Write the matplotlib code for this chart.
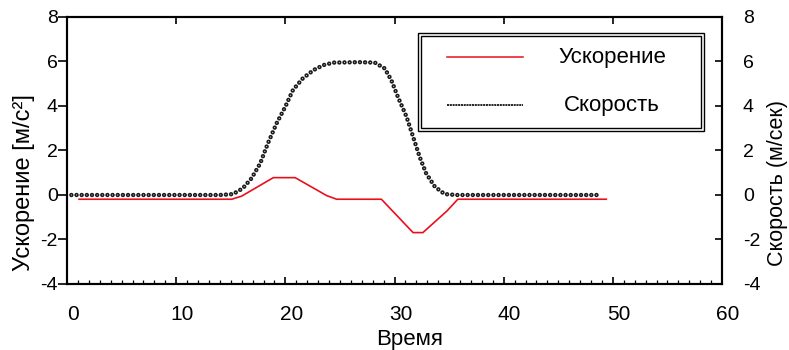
#!/usr/bin/env python3

"""
Acceleration / velocity vs time, two y axes
"""

import matplotlib
matplotlib.use("Agg")
import matplotlib.pyplot as plt
import matplotlib.transforms as mtrans
from matplotlib.patches import Rectangle

plt.rcParams["font.family"] = ["Liberation Sans", "DejaVu Sans"]
plt.rcParams["lines.scale_dashes"] = False
plt.rcParams["axes.unicode_minus"] = False

# acceleration, m/s^2
t_acc = [1.1, 15.1, 16.0, 18.9, 20.9, 23.8, 24.7, 28.8, 31.7, 32.6, 34.8, 35.8, 49.4]
acc = [-0.19, -0.19, -0.05, 0.78, 0.78, -0.03, -0.19, -0.19, -1.69, -1.69, -0.72, -0.19, -0.19]

# velocity, m/s
t_vel = [0.4, 14.0, 15.2, 16.1, 16.9, 17.7, 18.4, 19.2, 20.0, 20.7, 21.6, 22.6, 23.5,
         24.4, 26.8, 28.2, 29.1, 29.7, 30.3, 31.1, 31.7, 32.3, 32.9, 33.7, 34.6, 35.7, 48.6]
vel = [0, 0, 0.04, 0.3, 0.75, 1.42, 2.32, 3.22, 3.97, 4.72, 5.24, 5.62, 5.84,
       5.95, 5.97, 5.95, 5.69, 5.17, 4.42, 3.52, 2.62, 1.72, 0.97, 0.37, 0.04, 0, 0]

labels = ["Ускорение", "Скорость"]

fig = plt.figure(figsize=(7.89, 3.5), dpi=100)
ax = fig.add_axes([67/789, 1-284/350, 655/789, 267/350])
ax2 = ax.twinx()

ax.plot(t_acc, acc, color="#e8101c", lw=1.2)
ax2.plot(t_vel, vel, color="#1a1a1a", lw=3.2, dashes=(0.01, 3.7),
         dash_capstyle="round")
ax2.plot(t_vel, vel, color="white", lw=0.8, dashes=(0.01, 3.7),
         dash_capstyle="round")

for a in (ax, ax2):
    a.set_xlim(0, 60)
    a.set_ylim(-4, 8)
    a.set_yticks(range(-4, 9, 2))
    for s in a.spines.values():
        s.set_linewidth(1.5)

ax.set_xticks(range(0, 61, 10))
ax.set_xticks(range(0, 61, 1), minor=True)
ax.tick_params(axis="x", which="major", direction="in", length=5, width=1.2,
               top=True, labelsize=15, pad=15)
ax.tick_params(axis="x", which="minor", direction="in", length=3, width=0.9)
ax.tick_params(axis="y", direction="out", length=6.5, width=1.2, labelsize=14, pad=0)
ax2.tick_params(axis="y", direction="in", length=5, width=1.2, labelsize=14, pad=15)

# tick labels sit a little right of their ticks
shift = mtrans.ScaledTranslation(6/100, 0, fig.dpi_scale_trans)
for lab in ax.get_xticklabels():
    lab.set_transform(lab.get_transform() + shift)

ax.set_xlabel("Время", fontsize=16)
ax.xaxis.set_label_coords((410-67)/655, (284-339)/267)
ax.xaxis.label.set_va("center")

ax.set_ylabel("Ускорение [м/с²]", fontsize=17)
ax2.set_ylabel("Скорость (м/сек)", fontsize=15.5)
for a, xp in ((ax, 24), (ax2, 778)):
    lab = a.yaxis.label
    lab.set_rotation_mode("default")
    lab.set_va("center")
    lab.set_ha("center")
    a.yaxis.set_label_coords((xp-67)/655, (284-183)/267)

# legend box with double border, drawn by hand
T = ax2.transAxes
ax2.add_patch(Rectangle((0.536, 0.573), 0.9725-0.536, 0.940-0.573, transform=T,
                        fc="white", ec="black", lw=1.0, zorder=5))
ax2.add_patch(Rectangle((0.5405, 0.584), 0.968-0.5405, 0.929-0.584, transform=T,
                        fill=False, ec="black", lw=1.0, zorder=6))
ax2.plot([0.580, 0.696], [0.850, 0.850], transform=T, color="#e8101c", lw=1.1, zorder=7)
ax2.plot([0.580, 0.696], [0.670, 0.670], transform=T, color="black", lw=1.2,
         dashes=(1.5, 0.5), zorder=7)
for lbl, yp in zip(labels, [0.850, 0.670]):
    ax2.text(0.832, yp, lbl, transform=T, fontsize=16, ha="center",
             va="center", zorder=7)

fig.savefig("out.png")
plt.close(fig)
